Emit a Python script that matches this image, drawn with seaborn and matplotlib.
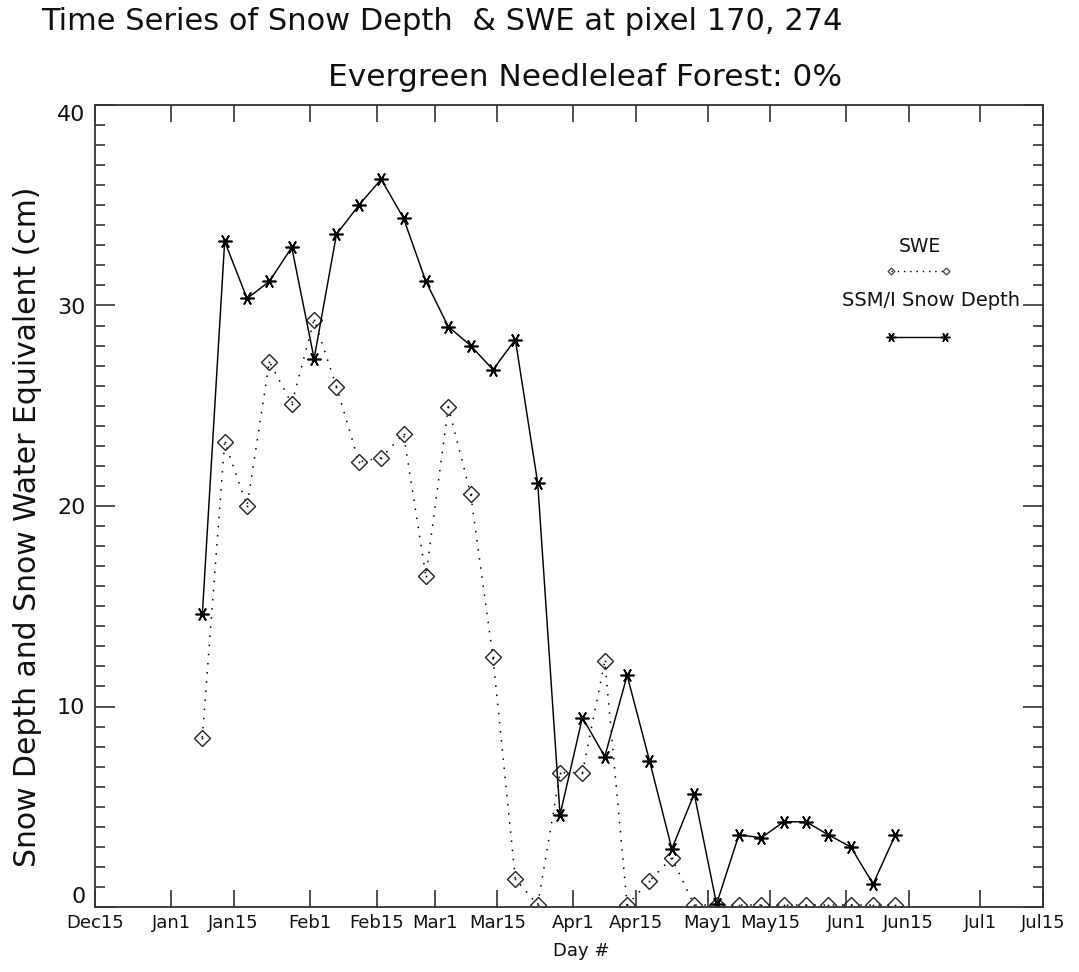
import matplotlib
matplotlib.use("Agg")
import matplotlib.pyplot as plt
import seaborn as sns
import pandas as pd
from matplotlib.ticker import FixedLocator, MultipleLocator

# ---- data (days after Dec 15) ----
days = [24, 29, 34, 39, 44, 49, 54, 59, 64, 69, 74, 79, 84, 89, 94, 99,
        104, 109, 114, 119, 124, 129, 134, 139, 144, 149, 154, 159, 164, 169, 174, 179]
swe = [8.45, 23.2, 20.0, 27.2, 25.1, 29.3, 25.95, 22.2, 22.4, 23.6, 16.5, 24.95,
       20.6, 12.45, 1.4, 0.1, 6.7, 6.7, 12.25, 0.1, 1.3, 2.45, 0.1, 0.1,
       0.1, 0.1, 0.1, 0.1, 0.1, 0.1, 0.1, 0.1]
snow_depth = [14.6, 33.2, 30.35, 31.2, 32.9, 27.35, 33.55, 35.0, 36.3, 34.35, 31.2, 28.95,
              28.0, 26.8, 28.3, 21.15, 4.6, 9.45, 7.5, 11.55, 7.3, 2.9, 5.65, 0.15,
              3.6, 3.45, 4.25, 4.25, 3.6, 3.0, 1.15, 3.6]
tick_days = [0, 17, 31, 48, 63, 76, 90, 107, 121, 137, 151, 168, 182, 198, 212]
tick_labels = ["Dec15", "Jan1", "Jan15", "Feb1", "Feb15", "Mar1", "Mar15", "Apr1",
               "Apr15", "May1", "May15", "Jun1", "Jun15", "Jul1", "Jul15"]
y_ticks = [0, 10, 20, 30, 40]

df = pd.DataFrame({"day": days, "swe": swe, "depth": snow_depth})

sns.set_theme(style="white")
plt.rcParams["font.family"] = ["DejaVu Sans"]
TXT = "#111111"
AX = "#333333"

fig = plt.figure(figsize=(10.79, 9.72), dpi=100)
ax = fig.add_axes([95/1079, 1-907/972, (1043-95)/1079, (907-105)/972])

# SWE: dotted line with open diamonds
sns.lineplot(data=df, x="day", y="swe", ax=ax, color="black", estimator=None,
             linestyle=(0, (1, 5)), linewidth=1.1, marker="D", markersize=8.3,
             markerfacecolor="none", markeredgecolor="#222222", markeredgewidth=1.0)
sns.lineplot(data=df, x="day", y="swe", ax=ax, color="black", estimator=None,
             linestyle="none", marker="s", markersize=1.2, markeredgewidth=0)
# Snow depth: solid line with asterisks
sns.lineplot(data=df, x="day", y="depth", ax=ax, color="black", estimator=None,
             linewidth=1.05, marker=(6, 2, 90), markersize=10, markeredgewidth=1.2,
             markeredgecolor="black")
sns.lineplot(data=df, x="day", y="depth", ax=ax, color="black", estimator=None,
             linestyle="none", marker="o", markersize=3, markeredgewidth=0)

ax.set_xlim(0, 212)
ax.set_ylim(0, 40)

ax.xaxis.set_major_locator(FixedLocator(tick_days))
ax.set_xticklabels(tick_labels)
ax.yaxis.set_major_locator(FixedLocator(y_ticks))
ax.yaxis.set_minor_locator(MultipleLocator(1))

ax.tick_params(axis="x", which="major", direction="in", length=12.2, width=1.2,
               color=AX, top=True, bottom=True, labelsize=13, labelcolor=TXT, pad=5)
ax.tick_params(axis="y", which="major", direction="in", length=14.4, width=1.2,
               color=AX, left=True, right=True, labelsize=16, labelcolor=TXT, pad=7)
ax.tick_params(axis="y", which="minor", direction="in", length=7.2, width=1.2,
               color=AX, left=True, right=True)
ylabs = ax.get_yticklabels()
ylabs[0].set_va("bottom")
ylabs[-1].set_va("top")

for s in ax.spines.values():
    s.set_color(AX)
    s.set_linewidth(1.3)

ax.set_xlabel("Day #", fontsize=13, color=TXT)
ax.xaxis.set_label_coords((581-95)/948, (907-951)/802)
ax.xaxis.label.set_va("center")
ax.set_ylabel("Snow Depth and Snow Water Equivalent (cm)", fontsize=21.5, color=TXT)
ax.yaxis.set_label_coords((28-95)/948, (907-527)/802)
ax.yaxis.label.set_va("center")

fig.text(442/1079, 1-22/972, "Time Series of Snow Depth  & SWE at pixel 170, 274",
         ha="center", va="center", fontsize=22, color=TXT)
fig.text(585/1079, 1-78/972, "Evergreen Needleleaf Forest: 0%",
         ha="center", va="center", fontsize=22.5, color=TXT)

# legend (IDL style: label above sample)
def fx(px):
    return (px - 95) / 948
def fy(py):
    return (907 - py) / 802

ax.text(fx(920), fy(247), "SWE", transform=ax.transAxes, ha="center", va="center",
        fontsize=13.5, color=TXT)
ax.plot([fx(890.7), fx(945.5)], [fy(271), fy(271)], transform=ax.transAxes,
        color="black", linestyle=(0, (1, 3.5)), linewidth=1, marker="D", markersize=3.5,
        markerfacecolor="none", markeredgecolor="#444444", markeredgewidth=0.9, clip_on=False)
ax.text(fx(930.5), fy(301), "SSM/I Snow Depth", transform=ax.transAxes, ha="center",
        va="center", fontsize=14, color=TXT)
ax.plot([fx(890.7), fx(945.2)], [fy(337.3), fy(337.3)], transform=ax.transAxes,
        color="black", linewidth=1.0, marker=(6, 2, 90), markersize=7, markeredgewidth=1.1,
        clip_on=False)

fig.savefig("out.png", dpi=100, facecolor="white")
